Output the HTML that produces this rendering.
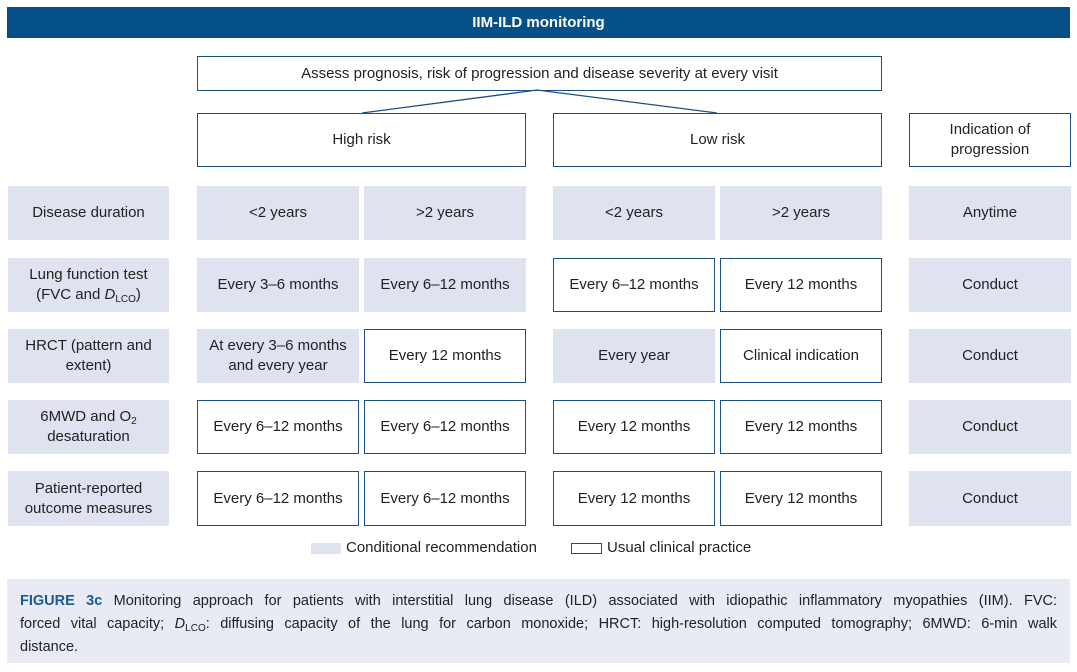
<!DOCTYPE html>
<html><head><meta charset="utf-8"><style>
*{margin:0;padding:0;box-sizing:border-box}
body{width:1077px;height:672px;background:#fff;position:relative;font-family:"Liberation Sans",sans-serif;color:#222;overflow:hidden}
.b{position:absolute;display:flex;align-items:center;justify-content:center;text-align:center;font-size:15px;line-height:20px}
.f{background:#dfe3f0}
.o{border:1.3px solid #1d4f86;background:#fff}
sub{font-size:10px;vertical-align:-3px;line-height:0}
.l{display:block;text-align:justify;text-align-last:justify;white-space:nowrap}
.cap{position:absolute;left:7px;top:579px;width:1063px;height:84px;background:#e8ebf3;padding:11px 13px 0 13px;font-size:14.5px;line-height:23px;color:#222}
</style></head><body>
<div class="b" style="left:7px;top:7px;width:1063px;height:31px;background:#06508a;color:#fff;font-weight:bold;font-size:15px"><span>IIM-ILD monitoring</span></div>
<div class="b o" style="left:197px;top:56px;width:685px;height:35px"><span>Assess prognosis, risk of progression and disease severity at every visit</span></div>
<svg style="position:absolute;left:0;top:0" width="1077" height="672"><polyline points="362,113 537,90 717,113" fill="none" stroke="#1d4f86" stroke-width="1.3"/></svg>
<div class="b o" style="left:197px;top:113px;width:329px;height:54px"><span>High risk</span></div>
<div class="b o" style="left:553px;top:113px;width:329px;height:54px"><span>Low risk</span></div>
<div class="b o" style="left:909px;top:113px;width:162px;height:54px"><span>Indication of<br>progression</span></div>

<div class="b f" style="left:8px;top:186px;width:161px;height:54px"><span>Disease duration</span></div>
<div class="b f" style="left:197px;top:186px;width:162px;height:54px"><span>&lt;2 years</span></div>
<div class="b f" style="left:364px;top:186px;width:162px;height:54px"><span>&gt;2 years</span></div>
<div class="b f" style="left:553px;top:186px;width:162px;height:54px"><span>&lt;2 years</span></div>
<div class="b f" style="left:720px;top:186px;width:162px;height:54px"><span>&gt;2 years</span></div>
<div class="b f" style="left:909px;top:186px;width:162px;height:54px"><span>Anytime</span></div>

<div class="b f" style="left:8px;top:258px;width:161px;height:54px"><span>Lung function test<br>(FVC and <i>D</i><sub>LCO</sub>)</span></div>
<div class="b f" style="left:197px;top:258px;width:162px;height:54px"><span>Every 3–6 months</span></div>
<div class="b f" style="left:364px;top:258px;width:162px;height:54px"><span>Every 6–12 months</span></div>
<div class="b o" style="left:553px;top:258px;width:162px;height:54px"><span>Every 6–12 months</span></div>
<div class="b o" style="left:720px;top:258px;width:162px;height:54px"><span>Every 12 months</span></div>
<div class="b f" style="left:909px;top:258px;width:162px;height:54px"><span>Conduct</span></div>

<div class="b f" style="left:8px;top:329px;width:161px;height:54px"><span>HRCT (pattern and<br>extent)</span></div>
<div class="b f" style="left:197px;top:329px;width:162px;height:54px"><span>At every 3–6 months<br>and every year</span></div>
<div class="b o" style="left:364px;top:329px;width:162px;height:54px"><span>Every 12 months</span></div>
<div class="b f" style="left:553px;top:329px;width:162px;height:54px"><span>Every year</span></div>
<div class="b o" style="left:720px;top:329px;width:162px;height:54px"><span>Clinical indication</span></div>
<div class="b f" style="left:909px;top:329px;width:162px;height:54px"><span>Conduct</span></div>

<div class="b f" style="left:8px;top:400px;width:161px;height:54px"><span>6MWD and O<sub>2</sub><br>desaturation</span></div>
<div class="b o" style="left:197px;top:400px;width:162px;height:54px"><span>Every 6–12 months</span></div>
<div class="b o" style="left:364px;top:400px;width:162px;height:54px"><span>Every 6–12 months</span></div>
<div class="b o" style="left:553px;top:400px;width:162px;height:54px"><span>Every 12 months</span></div>
<div class="b o" style="left:720px;top:400px;width:162px;height:54px"><span>Every 12 months</span></div>
<div class="b f" style="left:909px;top:400px;width:162px;height:54px"><span>Conduct</span></div>

<div class="b f" style="left:8px;top:471px;width:161px;height:55px"><span>Patient-reported<br>outcome measures</span></div>
<div class="b o" style="left:197px;top:471px;width:162px;height:55px"><span>Every 6–12 months</span></div>
<div class="b o" style="left:364px;top:471px;width:162px;height:55px"><span>Every 6–12 months</span></div>
<div class="b o" style="left:553px;top:471px;width:162px;height:55px"><span>Every 12 months</span></div>
<div class="b o" style="left:720px;top:471px;width:162px;height:55px"><span>Every 12 months</span></div>
<div class="b f" style="left:909px;top:471px;width:162px;height:55px"><span>Conduct</span></div>

<div style="position:absolute;left:311px;top:543px;width:30px;height:11px;background:#dfe3f0"></div>
<div style="position:absolute;left:346px;top:538px;font-size:15px;line-height:20px">Conditional recommendation</div>
<div style="position:absolute;left:571px;top:543px;width:31px;height:11px;border:1.3px solid #1d4f86"></div>
<div style="position:absolute;left:607px;top:538px;font-size:15px;line-height:20px">Usual clinical practice</div>

<div class="cap">
<span class="l"><b style="color:#1c5a95">FIGURE 3c</b> Monitoring approach for patients with interstitial lung disease (ILD) associated with idiopathic inflammatory myopathies (IIM). FVC:</span>
<span class="l">forced vital capacity; <i>D</i><sub>LCO</sub>: diffusing capacity of the lung for carbon monoxide; HRCT: high-resolution computed tomography; 6MWD: 6-min walk</span>
<span style="display:block">distance.</span>
</div>
</body></html>
